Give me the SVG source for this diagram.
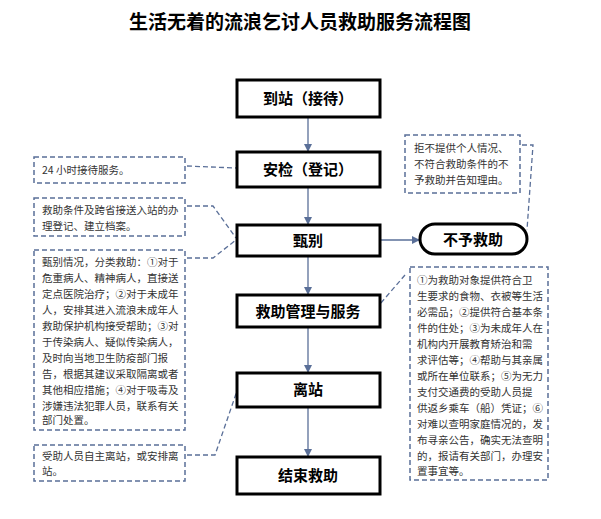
<svg xmlns="http://www.w3.org/2000/svg" width="601" height="519" viewBox="0 0 601 519">
<style>
.t{font-family:"Noto Sans CJK SC",sans-serif;font-weight:bold;font-size:19px;fill:#000}
.m rect{fill:#fff;stroke:#000;stroke-width:3}
.m text{font-family:"Noto Sans CJK SC",sans-serif;font-weight:bold;font-size:15px;text-anchor:middle;fill:#000}
.n rect{fill:#fff;stroke:#5a6f98;stroke-width:1.5;stroke-dasharray:5 3}
.n text{font-family:"Noto Sans CJK SC",serif;font-size:10.5px;fill:#333}
.c line,.c path{stroke:#5a6f98;stroke-width:1.3;fill:none}
.d{stroke-dasharray:5 3}
</style>
<defs><marker id="a" markerWidth="8" markerHeight="8" refX="7" refY="4" orient="auto" markerUnits="userSpaceOnUse"><path d="M0,0 L8,4 L0,8 z" fill="#5a6f98"/></marker></defs>
<rect width="601" height="519" fill="#fff"/>
<text class="t" x="300" y="29" text-anchor="middle">生活无着的流浪乞讨人员救助服务流程图</text>
<g class="c">
<line x1="308" y1="117" x2="308" y2="151" marker-end="url(#a)"/>
<line x1="308" y1="187" x2="308" y2="224" marker-end="url(#a)"/>
<line x1="308" y1="256" x2="308" y2="294" marker-end="url(#a)"/>
<line x1="308" y1="327" x2="308" y2="372" marker-end="url(#a)"/>
<line x1="308" y1="407" x2="308" y2="456" marker-end="url(#a)"/>
<line x1="380" y1="240" x2="419" y2="240" marker-end="url(#a)"/>
<path class="d" d="M187,166 L236,168"/>
<path class="d" d="M187,206 L213,206 L236,238"/>
<path class="d" d="M187,258 L213,258 L236,240"/>
<path class="d" d="M187,455 L215,455 L238,388"/>
<path class="d" d="M522,145 L533,145 L527,230"/>
<path class="d" d="M405,275 L368,318"/>
</g>
<g class="m" id="n1"><rect x="237" y="80" width="143" height="37"/><text x="308" y="104">到站（接待）</text></g>
<g class="m" id="n2"><rect x="237" y="152" width="143" height="35"/><text x="308" y="175">安检（登记）</text></g>
<g class="m" id="n3"><rect x="237" y="225" width="143" height="31"/><text x="308" y="246">甄别</text></g>
<g class="m" id="n4"><rect x="237" y="295" width="143" height="32"/><text x="308" y="317">救助管理与服务</text></g>
<g class="m" id="n5"><rect x="237" y="373" width="143" height="34"/><text x="308" y="395">离站</text></g>
<g class="m" id="n6"><rect x="237" y="457" width="143" height="37"/><text x="308" y="481">结束救助</text></g>
<g class="m" id="n7"><rect x="420" y="224" width="107" height="30" rx="15"/><text x="473" y="245">不予救助</text></g>
<g class="n" id="b1"><rect x="34" y="157" width="151" height="26"/><text x="42" y="174">24 小时接待服务。</text></g>
<g class="n" id="b2"><rect x="34" y="198" width="151" height="38"/><text x="42" y="214">救助条件及跨省接送入站的办</text><text x="42" y="230">理登记、建立档案。</text></g>
<g class="n" id="b3"><rect x="34" y="250" width="151" height="180"/>
<text x="42" y="266">甄别情况，分类救助：①对于</text>
<text x="42" y="282">危重病人、精神病人，直接送</text>
<text x="42" y="298">定点医院治疗；②对于未成年</text>
<text x="42" y="314">人，安排其进入流浪未成年人</text>
<text x="42" y="330">救助保护机构接受帮助；③对</text>
<text x="42" y="346">于传染病人、疑似传染病人，</text>
<text x="42" y="362">及时向当地卫生防疫部门报</text>
<text x="42" y="378">告，根据其建议采取隔离或者</text>
<text x="42" y="394">其他相应措施；④对于吸毒及</text>
<text x="42" y="410">涉嫌违法犯罪人员，联系有关</text>
<text x="42" y="424">部门处置。</text></g>
<g class="n" id="b4"><rect x="34" y="445" width="151" height="36"/><text x="42" y="460">受助人员自主离站，或安排离</text><text x="42" y="475">站。</text></g>
<g class="n" id="b5"><rect x="405" y="135" width="115" height="58"/><text x="414" y="152">拒不提供个人情况、</text><text x="414" y="168">不符合救助条件的不</text><text x="414" y="184">予救助并告知理由。</text></g>
<g class="n" id="b6"><rect x="410" y="267" width="138" height="213"/>
<text x="417" y="284">①为救助对象提供符合卫</text>
<text x="417" y="300">生要求的食物、衣被等生活</text>
<text x="417" y="316">必需品；②提供符合基本条</text>
<text x="417" y="332">件的住处；③为未成年人在</text>
<text x="417" y="348">机构内开展教育矫治和需</text>
<text x="417" y="364">求评估等；④帮助与其亲属</text>
<text x="417" y="380">或所在单位联系；⑤为无力</text>
<text x="417" y="396">支付交通费的受助人员提</text>
<text x="417" y="412">供返乡乘车（船）凭证；⑥</text>
<text x="417" y="428">对难以查明家庭情况的，发</text>
<text x="417" y="444">布寻亲公告，确实无法查明</text>
<text x="417" y="460">的，报请有关部门，办理安</text>
<text x="417" y="475">置事宜等。</text></g>
</svg>
